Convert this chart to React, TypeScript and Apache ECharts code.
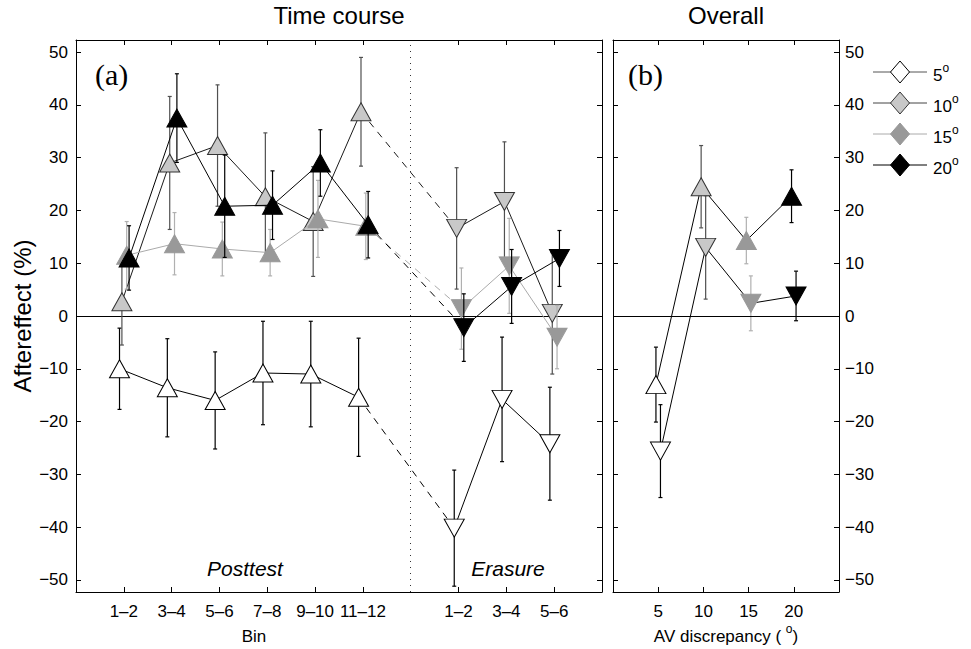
import React, { useEffect, useRef } from 'react';
import * as echarts from 'echarts';

// ---------- data ----------
const conditions = ['5', '10', '15', '20'];
const posttestBins = ['1–2', '3–4', '5–6', '7–8', '9–10', '11–12'];
const erasureBins = ['1–2', '3–4', '5–6'];
const posttestPos = [1, 2, 3, 4, 5, 6];
const erasurePos = [8, 9, 10];
const yTicks = [-50, -40, -30, -20, -10, 0, 10, 20, 30, 40, 50];
const discrepancies = [5, 10, 15, 20];

const post5 = [-10.0, -13.6, -16.0, -10.8, -11.0, -15.4];
const post5Err = [7.7, 9.3, 9.2, 9.8, 10.0, 11.2];
const post10 = [2.7, 29.0, 32.3, 22.6, 17.9, 38.7];
const post10Err = [8.2, 12.6, 11.5, 12.1, 10.4, 10.3];
const post15 = [11.5, 13.7, 12.7, 12.0, 18.4, 17.0];
const post15Err = [6.4, 5.9, 5.1, 4.4, 7.3, 6.3];
const post20 = [11.0, 37.5, 20.8, 21.0, 29.0, 17.3];
const post20Err = [6.1, 8.4, 9.7, 6.5, 6.3, 6.3];

const erase5 = [-40.2, -15.8, -24.2];
const erase5Err = [11.0, 11.8, 10.7];
const erase10 = [16.6, 21.7, 0.5];
const erase10Err = [11.5, 11.3, 11.5];
const erase15 = [1.4, 9.5, -4.0];
const erase15Err = [7.7, 9.0, 6.0];
const erase20 = [-2.2, 5.6, 10.9];
const erase20Err = [6.4, 7.0, 5.3];

const overallPost = [-13.0, 24.5, 14.3, 22.7];
const overallPostErr = [7.1, 7.8, 4.4, 5.0];
const overallErase = [-25.6, 13.0, 2.4, 3.8];
const overallEraseErr = [8.8, 9.8, 5.2, 4.7];

// ---------- styles ----------
const FONT = '"Liberation Sans", Arial, Helvetica, sans-serif';
const SERIF = '"Liberation Serif", "Times New Roman", serif';
const fills = ['#ffffff', '#c8c8c8', '#999999', '#000000'];
const edges = ['#000000', '#333333', '#999999', '#000000'];
const lineColors = ['#000000', '#1a1a1a', '#aaaaaa', '#000000'];
const legendLineColors = ['#555555', '#444444', '#aaaaaa', '#000000'];
const errColors = ['#000000', '#505050', '#b0b0b0', '#000000'];
const jitter = [-0.09, -0.04, 0.06, 0.11];
const overallShift = 0.25;
const TRI: [number, number] = [20, 18];

const postMeans = [post5, post10, post15, post20];
const postErrs = [post5Err, post10Err, post15Err, post20Err];
const eraseMeans = [erase5, erase10, erase15, erase20];
const eraseErrs = [erase5Err, erase10Err, erase15Err, erase20Err];

const binLabel: Record<number, string> = {};
posttestPos.forEach((p, i) => (binLabel[p] = posttestBins[i]));
erasurePos.forEach((p, i) => (binLabel[p] = erasureBins[i]));

const fmtNum = (v: number) => (v < 0 ? '−' + Math.abs(v) : String(v));

function errorSeries(xi: number, yi: number, data: number[][], z = 2) {
  return {
    type: 'custom',
    xAxisIndex: xi,
    yAxisIndex: yi,
    z,
    silent: true,
    encode: { x: 0, y: 1 },
    data,
    renderItem: (_p: any, api: any) => {
      const x = api.value(0);
      const y = api.value(1);
      const e = api.value(2);
      const c = errColors[api.value(3)];
      const t = api.coord([x, y + e]);
      const b = api.coord([x, y - e]);
      const hw = 2;
      const st = { stroke: c, lineWidth: 1.2 };
      return {
        type: 'group',
        children: [
          { type: 'line', shape: { x1: t[0], y1: t[1], x2: b[0], y2: b[1] }, style: st },
          { type: 'line', shape: { x1: t[0] - hw, y1: t[1], x2: t[0] + hw, y2: t[1] }, style: st },
          { type: 'line', shape: { x1: b[0] - hw, y1: b[1], x2: b[0] + hw, y2: b[1] }, style: st },
        ],
      };
    },
  };
}

function buildOption() {
  const series: any[] = [];

  // zero lines & dotted separator
  series.push({
    type: 'line',
    xAxisIndex: 0,
    yAxisIndex: 0,
    data: [],
    silent: true,
    markLine: {
      silent: true,
      symbol: 'none',
      label: { show: false },
      lineStyle: { color: '#000', width: 1, type: 'solid' },
      data: [{ yAxis: 0 }, { xAxis: 7, lineStyle: { color: '#333', type: [1, 5], width: 1 } }],
    },
  });
  series.push({
    type: 'line',
    xAxisIndex: 2,
    yAxisIndex: 2,
    data: [],
    silent: true,
    markLine: {
      silent: true,
      symbol: 'none',
      label: { show: false },
      lineStyle: { color: '#000', width: 1, type: 'solid' },
      data: [{ yAxis: 0 }],
    },
  });

  conditions.forEach((_c, i) => {
    const px = posttestPos.map((p) => p + jitter[i]);
    const ex = erasurePos.map((p) => p + jitter[i]);
    const z = 3 + i * 2;
    series.push(
      errorSeries(
        0,
        0,
        px.map((x, j) => [x, postMeans[i][j], postErrs[i][j], i]),
        z
      )
    );
    series.push(
      errorSeries(
        0,
        0,
        ex.map((x, j) => [x, eraseMeans[i][j], eraseErrs[i][j], i]),
        z
      )
    );
    // dashed connection
    series.push({
      type: 'line',
      xAxisIndex: 0,
      yAxisIndex: 0,
      z,
      silent: true,
      symbol: 'none',
      data: [
        [px[px.length - 1], postMeans[i][postMeans[i].length - 1]],
        [ex[0], eraseMeans[i][0]],
      ],
      lineStyle: { color: lineColors[i], width: 1, type: [7, 6] },
    });
    series.push({
      type: 'line',
      name: conditions[i] + '° posttest',
      xAxisIndex: 0,
      yAxisIndex: 0,
      z: z + 1,
      silent: true,
      symbol: 'triangle',
      symbolSize: TRI,
      data: px.map((x, j) => [x, postMeans[i][j]]),
      lineStyle: { color: lineColors[i], width: 1 },
      itemStyle: { color: fills[i], borderColor: edges[i], borderWidth: 1 },
    });
    series.push({
      type: 'line',
      name: conditions[i] + '° erasure',
      xAxisIndex: 0,
      yAxisIndex: 0,
      z: z + 1,
      silent: true,
      symbol: 'triangle',
      symbolRotate: 180,
      symbolSize: TRI,
      data: ex.map((x, j) => [x, eraseMeans[i][j]]),
      lineStyle: { color: lineColors[i], width: 1 },
      itemStyle: { color: fills[i], borderColor: edges[i], borderWidth: 1 },
    });
  });

  // overall panel
  series.push(
    errorSeries(
      2,
      2,
      discrepancies.map((d, i) => [d - overallShift, overallPost[i], overallPostErr[i], i]),
      3
    )
  );
  series.push(
    errorSeries(
      2,
      2,
      discrepancies.map((d, i) => [d + overallShift, overallErase[i], overallEraseErr[i], i]),
      3
    )
  );
  series.push({
    type: 'line',
    xAxisIndex: 2,
    yAxisIndex: 2,
    z: 5,
    silent: true,
    symbol: 'triangle',
    symbolSize: TRI,
    lineStyle: { color: '#000', width: 1 },
    data: discrepancies.map((d, i) => ({
      value: [d - overallShift, overallPost[i]],
      itemStyle: { color: fills[i], borderColor: edges[i], borderWidth: 1 },
    })),
  });
  series.push({
    type: 'line',
    xAxisIndex: 2,
    yAxisIndex: 2,
    z: 5,
    silent: true,
    symbol: 'triangle',
    symbolRotate: 180,
    symbolSize: TRI,
    lineStyle: { color: '#000', width: 1 },
    data: discrepancies.map((d, i) => ({
      value: [d + overallShift, overallErase[i]],
      itemStyle: { color: fills[i], borderColor: edges[i], borderWidth: 1 },
    })),
  });

  const axisLine = { show: true, onZero: false, lineStyle: { color: '#000', width: 1 } };
  const tick = (vals: number[]) => ({
    show: true,
    inside: true,
    length: 5,
    customValues: vals,
    lineStyle: { color: '#000', width: 1 },
  });
  const binTicks = [...posttestPos, ...erasurePos];
  const Y_MIN = -52.3;
  const Y_MAX = 52.3;

  const xAxis = [
    {
      type: 'value', gridIndex: 0, position: 'bottom', min: 0, max: 11,
      axisLine, splitLine: { show: false }, axisTick: tick(binTicks),
      axisLabel: {
        customValues: binTicks, margin: 11, fontSize: 17, color: '#000', fontFamily: FONT,
        formatter: (v: number) => binLabel[Math.round(v)] || '',
      },
    },
    {
      type: 'value', gridIndex: 0, position: 'top', min: 0, max: 11,
      axisLine, splitLine: { show: false }, axisTick: tick(binTicks), axisLabel: { show: false },
    },
    {
      type: 'value', gridIndex: 1, position: 'bottom', min: 0, max: 25,
      axisLine, splitLine: { show: false }, axisTick: tick(discrepancies),
      axisLabel: {
        customValues: discrepancies, margin: 11, fontSize: 17, color: '#000', fontFamily: FONT,
      },
    },
    {
      type: 'value', gridIndex: 1, position: 'top', min: 0, max: 25,
      axisLine, splitLine: { show: false }, axisTick: tick(discrepancies), axisLabel: { show: false },
    },
  ];
  const yAxis = [
    {
      type: 'value', gridIndex: 0, position: 'left', min: Y_MIN, max: Y_MAX,
      axisLine, splitLine: { show: false }, axisTick: tick(yTicks),
      axisLabel: {
        customValues: yTicks, margin: 8, fontSize: 17, color: '#000', fontFamily: FONT,
        formatter: fmtNum,
      },
    },
    {
      type: 'value', gridIndex: 0, position: 'right', min: Y_MIN, max: Y_MAX,
      axisLine, splitLine: { show: false }, axisTick: tick(yTicks), axisLabel: { show: false },
    },
    {
      type: 'value', gridIndex: 1, position: 'right', min: Y_MIN, max: Y_MAX,
      axisLine, splitLine: { show: false }, axisTick: tick(yTicks),
      axisLabel: {
        customValues: yTicks, margin: 6, fontSize: 17, color: '#000', fontFamily: FONT,
        formatter: fmtNum,
      },
    },
    {
      type: 'value', gridIndex: 1, position: 'left', min: Y_MIN, max: Y_MAX,
      axisLine, splitLine: { show: false }, axisTick: tick(yTicks), axisLabel: { show: false },
    },
  ];

  const legendY = [72, 103, 134, 165];
  const graphic: any[] = [
    { type: 'text', x: 339, y: 15, style: { text: 'Time course', font: `24px ${FONT}`, fill: '#000', align: 'center', verticalAlign: 'middle' } },
    { type: 'text', x: 726, y: 15, style: { text: 'Overall', font: `24px ${FONT}`, fill: '#000', align: 'center', verticalAlign: 'middle' } },
    { type: 'text', x: 95, y: 74, style: { text: '(a)', font: `30px ${SERIF}`, fill: '#000', align: 'left', verticalAlign: 'middle' } },
    { type: 'text', x: 628, y: 74, style: { text: '(b)', font: `30px ${SERIF}`, fill: '#000', align: 'left', verticalAlign: 'middle' } },
    { type: 'text', x: 245, y: 568, style: { text: 'Posttest', font: `italic 21px ${FONT}`, fill: '#000', align: 'center', verticalAlign: 'middle' } },
    { type: 'text', x: 508, y: 568, style: { text: 'Erasure', font: `italic 21px ${FONT}`, fill: '#000', align: 'center', verticalAlign: 'middle' } },
    { type: 'text', x: 254, y: 636, style: { text: 'Bin', font: `17px ${FONT}`, fill: '#000', align: 'center', verticalAlign: 'middle' } },
    {
      type: 'text', x: 726, y: 634,
      style: {
        text: '{n|AV discrepancy ( }{s|o}{n|)}',
        align: 'center', verticalAlign: 'middle', fill: '#000',
        rich: {
          n: { fontSize: 17, fontFamily: FONT, lineHeight: 22, verticalAlign: 'bottom' },
          s: { fontSize: 12, fontFamily: FONT, lineHeight: 22, verticalAlign: 'top' },
        },
      },
    },
    {
      type: 'text', x: 22, y: 316, rotation: Math.PI / 2,
      style: { text: 'Aftereffect (%)', font: `24px ${FONT}`, fill: '#000', align: 'center', verticalAlign: 'middle' },
    },
  ];
  conditions.forEach((c, i) => {
    const y = legendY[i];
    graphic.push({
      type: 'line', shape: { x1: 873, y1: y, x2: 927, y2: y },
      style: { stroke: legendLineColors[i], lineWidth: 1 },
    });
    graphic.push({
      type: 'polygon',
      shape: { points: [[900, y - 11], [909.5, y], [900, y + 11], [890.5, y]] },
      style: { fill: fills[i], stroke: edges[i], lineWidth: 1 },
    });
    graphic.push({
      type: 'text', x: 933, y: y + 1,
      style: {
        text: `{n|${c}}{s|o}`,
        align: 'left', verticalAlign: 'middle', fill: '#000',
        rich: {
          n: { fontSize: 17, fontFamily: FONT, lineHeight: 22, verticalAlign: 'bottom' },
          s: { fontSize: 12, fontFamily: FONT, lineHeight: 22, verticalAlign: 'top' },
        },
      },
    });
  });

  return {
    animation: false,
    backgroundColor: '#ffffff',
    grid: [
      { left: 76, top: 40, width: 526, height: 552 },
      { left: 613, top: 40, width: 226, height: 552 },
    ],
    xAxis,
    yAxis,
    series,
    graphic,
  };
}

export default function App() {
  const ref = useRef<HTMLDivElement>(null);
  useEffect(() => {
    if (!ref.current) return;
    const chart = echarts.init(ref.current, undefined, { renderer: 'svg' });
    chart.setOption(buildOption() as any);
    return () => chart.dispose();
  }, []);
  return (
    <div
      ref={ref}
      style={{ position: 'fixed', left: 0, top: 0, width: 971, height: 649, background: '#fff' }}
    />
  );
}
